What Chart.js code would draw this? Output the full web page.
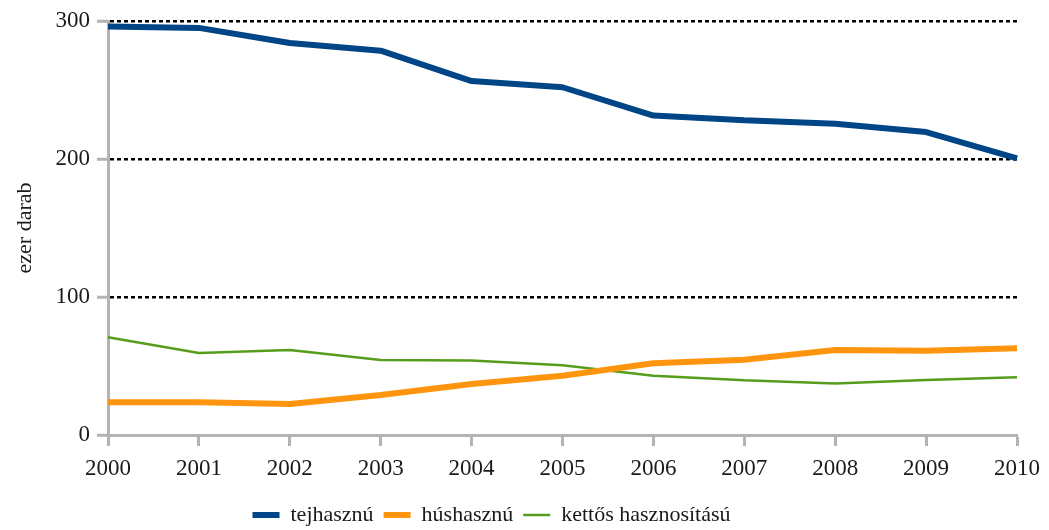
<!DOCTYPE html>
<html>
<head>
<meta charset="utf-8">
<script src="https://cdn.jsdelivr.net/npm/chart.js@4/dist/chart.umd.min.js"></script>
<style>
  html, body { margin: 0; padding: 0; background: #fff; }
  #wrap { width: 1049px; height: 530px; }
</style>
</head>
<body>
<div id="wrap"><canvas id="chart"></canvas></div>
<script>
// data (ezer darab)
const years = ["2000", "2001", "2002", "2003", "2004", "2005", "2006", "2007", "2008", "2009", "2010"];
const tejhasznu = [296, 295, 284, 278.5, 256.5, 252, 231.5, 228, 225.5, 219.5, 200.5];
const hushasznu = [23.7, 23.7, 22.5, 29, 37, 43, 52, 54.6, 61.6, 61, 62.8];
const kettos = [70.8, 59.4, 61.6, 54.3, 53.9, 50.5, 43, 39.6, 37.4, 39.9, 41.8];
const yTicks = [0, 100, 200, 300];

const tickFont = { family: "'Liberation Serif', serif", size: 23 };
const font = { family: "'Liberation Serif', serif", size: 22 };
const textColor = "#1a1a1a";
const axisGrey = "#b3b3b3";

// the legend in the picture sits a little left of the page centre
const legendNudge = {
    id: "legendNudge",
    afterLayout(chart) {
        if (chart.legend) chart.legend.right -= 34;
    }
};

new Chart(document.getElementById("chart"), {
    type: "line",
    data: {
        labels: years,
        datasets: [
            { label: "tejhasznú", data: tejhasznu, borderColor: "#004586", backgroundColor: "#004586", borderWidth: 6 },
            { label: "húshasznú", data: hushasznu, borderColor: "#ff950e", backgroundColor: "#ff950e", borderWidth: 6 },
            { label: "kettős hasznosítású", data: kettos, borderColor: "#579d1c", backgroundColor: "#579d1c", borderWidth: 2.5 }
        ]
    },
    plugins: [legendNudge],
    options: {
        responsive: true,
        maintainAspectRatio: false,
        animation: false,
        layout: { padding: { top: 21, right: 32, left: 0, bottom: -6 } },
        elements: {
            line: { tension: 0, borderJoinStyle: "bevel", borderCapStyle: "butt" },
            point: { radius: 0, hoverRadius: 0, pointStyle: "line" }
        },
        datasets: { line: { clip: false } },
        plugins: {
            tooltip: { enabled: false },
            legend: {
                position: "bottom",
                labels: {
                    usePointStyle: true,
                    pointStyleWidth: 27,
                    padding: 10,
                    color: textColor,
                    font: font
                }
            }
        },
        scales: {
            x: {
                offset: false,
                border: { color: axisGrey, width: 3 },
                grid: { drawOnChartArea: false, drawTicks: true, tickLength: 11, tickColor: axisGrey, tickWidth: 3 },
                ticks: { color: textColor, font: tickFont, padding: 9, maxRotation: 0, autoSkip: false },
                afterFit: function(scale) { scale.height = 59; }
            },
            y: {
                min: 0,
                max: 300,
                border: { color: axisGrey, width: 3, dash: [4, 3] },
                grid: {
                    color: function(ctx) { return ctx.tick && ctx.tick.value === 0 ? "rgba(0,0,0,0)" : "#000"; },
                    lineWidth: 2.5,
                    drawTicks: true,
                    tickLength: 11,
                    tickColor: axisGrey,
                    tickWidth: 3,
                    tickBorderDash: []
                },
                afterBuildTicks: function(scale) { scale.ticks = yTicks.map(v => ({ value: v })); },
                ticks: { color: textColor, font: tickFont, padding: 7 },
                title: { display: true, text: "ezer darab", color: textColor, font: font, padding: { top: 12, bottom: 4 } },
                afterFit: function(scale) { scale.width = 108; }
            }
        }
    }
});
</script>
</body>
</html>
